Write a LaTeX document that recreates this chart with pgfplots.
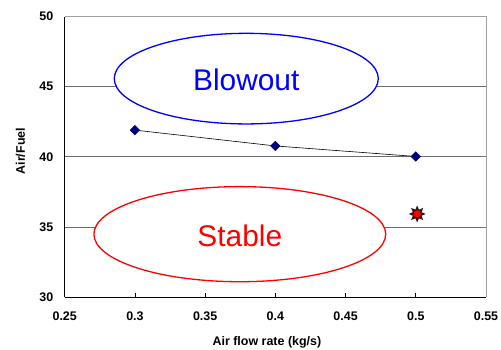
\documentclass[border=0pt]{standalone}
\usepackage{fontspec}
\setmainfont{Liberation Sans}
\usepackage{pgfplots}
\pgfplotsset{compat=1.18}
\definecolor{navy}{HTML}{000080}
\definecolor{gridgray}{HTML}{6E6E6E}
\definecolor{boxgray}{HTML}{A0A0A0}
\definecolor{spike}{HTML}{3A1010}
\pgfdeclareplotmark{sunburst}{%
  \pgfpathmoveto{\pgfpointpolar{90}{\pgfplotmarksize}}%
  \foreach \a in {0,...,15}{%
    \pgfmathsetmacro{\ang}{90+22.5*\a}%
    \pgfmathsetmacro{\rr}{mod(\a,2)==0 ? 1 : 0.55}%
    \pgfpathlineto{\pgfpointpolar{\ang}{\rr\pgfplotmarksize}}%
  }%
  \pgfpathclose
  \pgfsetfillcolor{spike}%
  \pgfusepath{fill}%
  \pgfsetfillcolor{red}%
  \pgfsetstrokecolor{spike}%
  \pgfsetlinewidth{0.5bp}%
  \pgfpathcircle{\pgfpointorigin}{0.48\pgfplotmarksize}%
  \pgfusepath{fill,stroke}%
}
\begin{document}
\begin{tikzpicture}
\begin{axis}[
  scale only axis,
  width=421.3bp, height=280.5bp,
  xmin=0.25, xmax=0.55, ymin=30, ymax=50,
  axis x line=bottom, axis y line=left,
  axis line style={-, black, line width=0.8bp},
  xtick={0.25,0.3,0.35,0.4,0.45,0.5,0.55},
  xticklabels={0.25,0.3,0.35,0.4,0.45,0.5,0.55},
  ytick={30,35,40,45,50},
  yticklabels={30,35,40,45,50},
  tick align=inside,
  major tick length=4bp,
  xtick style={black, line width=0.6bp},
  ytick style={draw=none},
  ymajorgrids,
  grid style={gridgray, line width=0.7bp},
  /pgf/number format/assume math mode=true,
  ticklabel style={font=\fontsize{12.5}{14}\selectfont\bfseries},
  xticklabel style={yshift=-11bp},
  yticklabel style={xshift=-8bp},
  xlabel={Air flow rate (kg/s)},
  ylabel={Air/Fuel},
  label style={font=\fontsize{12.5}{14}\selectfont\bfseries},
  xlabel style={at={(axis description cs:0.48,0)}, anchor=north, yshift=-36bp},
  ylabel style={at={(axis description cs:0,0.52)}, anchor=south, yshift=36bp},
  clip=false,
]
\draw[boxgray, line width=0.8bp] (rel axis cs:0,1) -- (rel axis cs:1,1) -- (rel axis cs:1,0);
\draw[blue, line width=1.3bp, fill=white] (axis cs:0.3793,45.57) ellipse [x radius=0.094, y radius=3.23];
\draw[red, line width=1.3bp, fill=white] (axis cs:0.3747,34.48) ellipse [x radius=0.1039, y radius=3.39];
\node[blue, font=\fontsize{30}{32}\selectfont] at (axis cs:0.3793,45.45) {Blowout};
\node[red, font=\fontsize{30}{32}\selectfont] at (axis cs:0.3747,34.35) {Stable};
\addplot[black, line width=0.6bp, mark=square*, mark size=3.3bp, mark options={navy, fill=navy, rotate=45}] coordinates {
  (0.3,41.9) (0.4,40.77) (0.5,40.02)
};
\addplot[only marks, mark=sunburst, mark size=8.5bp] coordinates {
  (0.501,35.92)
};
\end{axis}
\pgfresetboundingbox
\path (current axis.south west) ++(-64.7bp,-53bp) coordinate (bl);
\path (current axis.north east) ++(15bp,16.5bp) coordinate (tr);
\path (bl) rectangle (tr);
\end{tikzpicture}
\end{document}
